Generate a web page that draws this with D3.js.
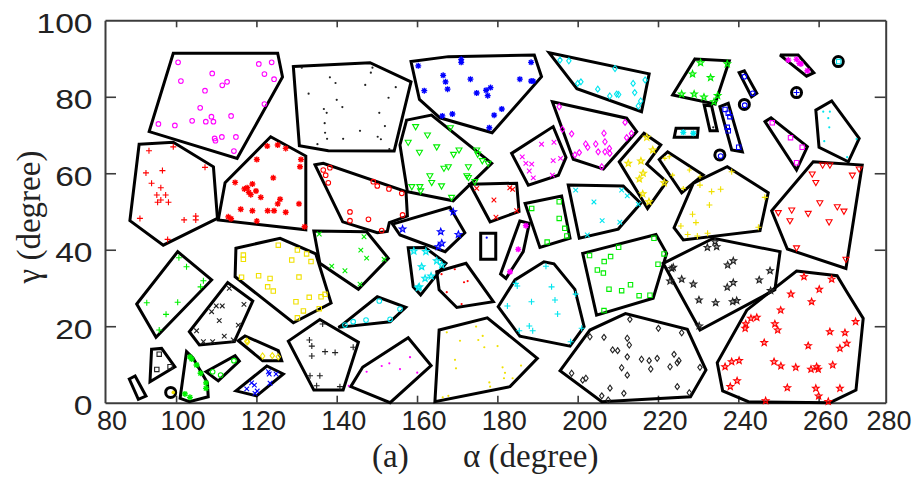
<!DOCTYPE html>
<html>
<head>
<meta charset="utf-8">
<script src="https://cdn.jsdelivr.net/npm/d3@7"></script>
<style>
  body { margin: 0; background: #fff; }
  svg { display: block; }
</style>
</head>
<body>
<svg id="chart" width="921" height="477"></svg>
<script>
// ---------- axes ----------
const xDomain = [82.3, 276.7];
const yDomain = [0, 100];
const xTicks = [100, 120, 140, 160, 180, 200, 220, 240, 260];
const xTickLabels = [80, 100, 120, 140, 160, 180, 200, 220, 240, 260, 280];
const yTicks = [20, 40, 60, 80];
const yTickLabels = [0, 20, 40, 60, 80, 100];

// ---------- clusters: hull vertices and member points, (alpha, gamma) in degrees ----------
const hull01 = [[99.3,91.4],[125.3,91.4],[126.5,85.2],[115.2,63.9],[93.3,70.9]];
const pts01 = [[100.5,89.0],[101.2,84.1],[109.0,86.1],[111.5,83.0],[112.7,83.9],[107.2,81.6],[120.6,88.6],[123.8,89.0],[122.0,85.95],[124.4,84.6],[122.0,78.1],[106.0,77.1],[95.6,72.9],[99.7,72.5],[104.0,73.7],[107.4,73.5],[108.8,74.8],[109.3,73.5],[113.7,75.0],[109.6,69.1],[109.8,68.5],[111.4,69.5],[114.9,69.5],[114.4,65.8]];

const hull02 = [[90.8,67.6],[99.3,68.1],[109.3,61.7],[110.3,48.2],[96.8,41.2],[88.5,47.6]];
const pts02 = [[93.25,65.9],[99.3,66.9],[107.2,61.55],[92.5,60.1],[96.6,60.7],[93.9,57.4],[96.2,56.2],[95.2,54.3],[97.4,54.3],[95.4,52.4],[96.2,53.0],[98.1,52.4],[91.0,48.2],[102.0,47.8],[104.9,48.8],[104.9,47.8],[97.9,42.7]];

const hull03 = [[123.55,69.55],[132.3,64.5],[132.3,45.2],[110.5,47.8],[112.2,57.5]];
const pts03 = [[122.7,67.1],[125.3,67.4],[127.3,66.5],[120.1,63.6],[131.1,63.6],[130.85,61.7],[114.7,57.6],[119.0,57.2],[124.2,58.8],[117.7,56.2],[117.0,55.9],[118.1,55.0],[118.6,54.4],[119.9,55.35],[121.1,53.7],[125.9,53.2],[130.6,52.0],[125.3,52.0],[116.1,50.6],[119.0,50.2],[122.8,50.2],[124.4,50.2],[127.3,49.8],[113.0,48.6],[113.7,48.1],[120.1,47.5],[132.0,46.0]];

const hull04 = [[129.2,87.9],[148.3,88.9],[158.5,83.9],[154.3,65.8],[137.9,65.9],[130.7,67.2]];
const pts04 = [[131.3,87.6],[138.3,85.1],[139.7,83.6],[148.9,87.6],[148.5,86.3],[147.1,83.1],[154.7,82.5],[152.9,79.75],[133.0,80.8],[140.0,79.2],[141.4,77.3],[136.8,76.8],[137.5,75.8],[150.6,75.8],[137.0,73.1],[152.0,72.35],[145.8,71.1],[137.1,70.6],[137.6,69.0],[141.6,69.0],[150.2,69.55],[151.0,68.9],[135.2,67.6],[153.1,66.3]];

const hull05 = [[158.5,89.2],[167.8,90.5],[189.2,90.9],[191.0,85.25],[178.7,70.6],[165.7,74.5],[160.6,79.3]];
const pts05 = [[160.3,88.1],[171.0,89.8],[171.0,89.0],[188.4,89.0],[166.5,85.6],[167.1,83.9],[173.3,84.6],[185.6,84.6],[188.4,84.1],[188.9,84.1],[167.6,82.0],[161.8,81.6],[174.85,81.0],[177.2,81.7],[178.3,82.4],[177.6,80.3],[181.1,76.8],[168.8,75.5],[166.3,75.0],[179.2,75.2],[178.0,71.9]];

const hull06 = [[192.9,91.5],[217.8,86.0],[215.9,76.1],[199.8,82.1]];
const pts06 = [[195.6,89.6],[197.8,89.4],[200.8,83.9],[200.0,83.5],[205.0,82.0],[209.7,80.7],[209.3,87.4],[213.8,83.5],[216.8,84.4],[214.2,81.1],[210.2,80.6],[208.0,80.2],[215.7,78.9],[215.1,77.6]];

const hull07 = [[193.7,78.7],[212.2,74.4],[214.7,70.9],[206.4,61.1],[198.9,63.65]];
const pts07 = [[195.4,77.4],[196.2,71.5],[198.5,70.3],[206.55,70.45],[206.8,68.25],[202.0,67.65],[202.5,66.8],[204.5,67.65],[205.1,65.6],[206.8,65.6],[207.9,66.5],[208.0,65.2],[200.4,65.4],[199.3,64.8],[206.0,61.7],[211.8,73.3],[212.2,69.3],[213.4,70.4]];

const hull08 = [[157.4,73.9],[163.6,75.2],[178.6,62.6],[169.0,52.8],[157.6,55.2],[155.75,67.4]];
const pts08 = [[159.65,72.2],[162.6,70.0],[168.3,71.9],[157.8,68.1],[160.6,65.5],[164.9,66.9],[169.1,64.95],[170.45,66.1],[174.85,66.1],[175.1,65.0],[176.25,63.3],[172.8,61.7],[167.8,61.7],[166.7,61.3],[163.2,59.35],[163.65,57.6],[172.4,59.35],[172.8,58.9],[158.7,56.5],[160.7,56.5],[160.9,55.4],[166.1,56.7],[168.6,53.7],[174.4,57.8],[177.7,62.6]];

const hull09 = [[134.6,62.2],[136.65,62.6],[157.25,55.2],[157.6,48.8],[153.1,47.1],[152.6,44.8],[150.1,44.45],[141.5,47.3]];
const pts09 = [[136.65,60.85],[138.3,61.45],[137.25,59.5],[137.9,57.5],[149.1,57.8],[150.1,56.7],[153.0,55.9],[156.2,54.75],[143.3,49.9],[143.3,47.6],[147.9,47.95],[151.2,45.0],[156.4,49.1]];

const hull10 = [[134.3,44.9],[147.45,44.7],[152.85,37.75],[145.4,29.65],[135.8,36.45]];
const pts10 = [[135.65,44.1],[146.8,43.4],[146.0,39.9],[147.45,37.8],[138.75,35.7],[142.05,34.5],[145.8,31.0],[151.8,37.5]];

const hull11 = [[153.9,46.7],[168.2,51.1],[171.9,44.45],[167.0,39.5],[155.75,43.85]];
const pts11 = [[156.4,45.4],[165.9,44.7],[170.3,44.0],[166.15,41.7],[165.3,40.8],[169.0,49.9]];

const hull12 = [[157.8,40.5],[162.0,40.6],[167.2,36.45],[160.9,28.15],[159.05,30.3]];
const pts12 = [[159.2,39.65],[162.2,39.5],[164.9,37.1],[161.15,35.55],[166.15,36.0],[162.0,32.5],[163.5,33.1],[160.55,30.3],[160.3,30.05]];

const hull13 = [[164.9,34.25],[172.2,36.45],[179.0,26.4],[169.9,24.9],[165.5,29.5]];
const pts13 = [[166.1,33.6],[169.4,34.9],[171.7,31.5],[172.6,31.8],[167.4,28.9],[171.1,25.8]];

const hull14 = [[173.2,57.1],[184.8,57.4],[185.4,50.0],[178.2,47.3]];
const pts14 = [[174.85,56.05],[179.15,53.0],[183.1,56.2],[183.8,55.8],[179.65,48.5],[184.8,50.2]];

const hull15 = [[175.85,44.3],[179.6,44.3],[179.6,37.5],[175.85,37.5]];
const pts15 = [[177.35,43.15]];

const hull16 = [[185.6,47.5],[187.95,46.9],[186.45,39.5],[182.15,32.5],[180.8,33.65]];
const pts16 = [[187.1,46.3],[185.2,40.1],[183.15,34.25]];

const hull17 = [[183.55,65.2],[193.9,72.2],[197.1,64.15],[195.2,59.5],[187.7,56.9]];
const pts17 = [[191.0,67.6],[194.1,68.1],[186.2,64.3],[187.1,62.6],[188.55,62.4],[187.95,60.6],[193.9,63.3],[195.75,63.9],[188.95,58.8],[193.7,59.5]];

const hull18 = [[186.9,52.1],[196.0,54.05],[198.1,43.0],[190.6,40.6]];
const pts18 = [[188.55,50.8],[195.4,52.55],[195.4,48.2],[196.8,45.6],[197.3,43.6],[192.4,42.0]];

const hull19 = [[197.65,56.9],[211.35,56.65],[215.7,52.15],[210.1,45.4],[200.4,43.0]];
const pts19 = [[199.5,55.6],[204.05,52.5],[206.1,47.6],[210.95,55.6],[212.35,54.1],[210.5,47.2],[202.4,43.85],[215.1,51.9]];

const hull20 = [[210.35,63.0],[216.5,70.45],[220.7,67.4],[217.2,62.4],[222.15,57.8],[217.4,50.8]];
const pts20 = [[212.6,62.6],[215.75,63.2],[216.3,60.0],[215.35,58.5],[216.2,54.6],[217.75,52.55],[221.55,57.5],[218.7,66.1],[217.2,69.4]];

const hull21 = [[220.3,63.6],[222.4,65.6],[231.25,59.55],[225.9,54.9]];
const pts21 = [[221.7,63.9],[222.8,64.3],[223.65,59.5],[227.8,60.85],[230.45,59.1],[226.3,56.05]];

const hull22 = [[228.8,57.4],[237.25,61.7],[247.45,54.9],[245.4,45.0],[226.3,42.55],[224.0,45.75]];
const pts22 = [[230.45,56.9],[233.35,55.2],[235.6,55.8],[232.8,51.7],[228.6,49.3],[229.45,47.1],[225.7,46.2],[227.4,44.0],[232.35,44.3],[229.8,43.6],[245.0,45.9],[246.6,53.7],[238.35,60.4]];

const hull23 = [[258.65,63.0],[270.85,62.15],[266.8,35.1],[252.2,40.2],[248.3,50.2]];
const pts23 = [[261.0,62.15],[262.8,62.15],[258.4,59.8],[259.3,57.6],[268.4,59.5],[270.1,61.1],[260.3,52.3],[264.65,51.25],[266.3,50.1],[249.95,49.7],[253.3,50.4],[257.4,49.5],[252.85,47.6],[262.6,47.3],[254.5,40.5],[266.8,37.5]];

const hull24 = [[259.3,76.5],[263.25,78.9],[270.1,69.1],[267.4,63.0],[260.1,66.8]];
const pts24 = [[261.15,76.1],[262.8,76.1],[262.4,74.4],[262.65,72.0],[261.4,68.4],[269.45,68.95],[267.1,64.2]];

const hull25 = [[246.65,73.5],[248.15,74.5],[257.2,66.95],[254.5,60.85]];
const pts25 = [[248.45,73.2],[253.0,69.3],[255.9,66.8],[254.5,62.75]];

const hull26 = [[250.4,90.9],[254.9,90.9],[258.8,86.3],[257.0,85.4]];
const pts26 = [[252.45,89.6],[254.5,89.8],[255.2,88.75],[255.6,88.6],[257.2,86.8]];

const hull27 = [[235.4,77.4],[237.5,78.3],[241.0,65.6],[238.35,66.1]];
const pts27 = [[236.7,76.7],[237.5,75.7],[237.9,74.8],[237.25,72.0],[237.5,71.1],[240.1,66.8]];

const hull28 = [[240.2,86.3],[241.5,86.8],[244.6,80.9],[243.3,80.0]];
const pts28 = [[241.5,85.25],[243.6,80.9]];

const hull29 = [[231.5,77.85],[233.35,77.6],[234.75,71.1],[232.95,71.1]];
const pts29 = [[233.75,72.0]];

const hull30 = [[224.5,71.75],[230.0,71.75],[229.8,69.4],[224.05,69.4]];
const pts30 = [[226.3,70.7],[228.8,70.45]];

const hull31 = [[229.2,89.9],[237.75,89.4],[234.2,78.1],[223.65,80.5]];
const pts31 = [[230.6,88.9],[237.25,88.6],[228.6,85.95],[233.1,85.0],[225.9,80.7],[229.0,80.7],[231.45,79.9],[234.85,80.3],[233.95,78.7]];

const hull32 = [[221.3,36.45],[233.8,43.0],[250.4,39.5],[249.1,29.5],[230.45,19.0]];
const pts32 = [[234.2,42.1],[232.3,40.6],[234.6,40.8],[237.35,36.0],[238.75,37.1],[223.8,35.4],[223.4,35.1],[223.0,31.8],[225.9,32.3],[228.8,31.0],[237.25,30.2],[238.75,31.4],[245.2,32.1],[247.9,34.5],[248.05,29.3],[230.2,26.85],[234.35,26.15],[238.6,26.4],[239.6,26.7],[230.25,20.05]];

const hull33 = [[254.5,34.45],[264.6,33.2],[267.0,29.0],[271.1,22.05],[269.3,3.3],[262.8,0.0],[242.5,0.25],[236.1,3.1],[234.75,10.45],[242.1,24.2]];
const pts33 = [[256.35,32.95],[263.25,32.3],[253.1,28.4],[260.15,29.65],[258.25,26.4],[250.55,24.2],[244.6,22.3],[243.15,22.05],[241.85,20.6],[241.7,19.45],[249.1,20.6],[249.8,19.0],[246.45,15.7],[262.8,18.55],[266.55,18.3],[257.4,14.9],[265.3,14.2],[267.0,15.5],[269.2,21.2],[248.9,10.7],[250.6,9.6],[254.3,9.25],[258.1,8.75],[259.5,9.4],[259.9,8.75],[263.5,9.85],[238.35,10.7],[240.2,11.0],[236.7,9.4],[239.7,5.7],[238.0,4.2],[252.2,3.9],[259.3,3.75],[265.3,3.75],[260.0,1.75],[246.8,0.5],[262.4,0.3]];

const hull34 = [[195.6,8.35],[203.05,19.0],[211.9,23.3],[227.3,19.2],[231.95,8.55],[228.1,1.55],[206.0,0.25]];
const pts34 = [[203.05,17.25],[206.55,17.1],[213.0,21.8],[220.1,19.45],[225.9,18.3],[212.35,16.85],[212.85,15.1],[208.7,13.8],[209.95,13.6],[212.35,12.0],[215.9,11.35],[217.8,11.0],[219.8,11.6],[224.0,12.65],[225.2,11.0],[224.8,10.45],[223.0,9.4],[210.95,9.15],[212.35,7.2],[218.2,8.8],[230.45,9.25],[224.8,4.2],[208.05,3.8],[211.5,2.45],[227.8,2.6],[206.0,1.8],[207.6,0.7],[198.5,7.7],[201.25,5.9],[202.05,6.4]];

const hull35 = [[180.2,25.1],[184.4,32.1],[191.6,36.85],[194.1,36.3],[199.3,29.65],[201.6,19.9],[198.1,14.8],[185.6,17.4]];
const pts35 = [[192.1,35.7],[184.6,31.2],[184.95,30.5],[193.5,30.3],[199.5,28.4],[188.5,26.4],[194.35,26.85],[182.5,25.3],[195.0,23.2],[187.95,20.05],[188.8,18.8],[185.45,18.8],[201.0,19.45],[198.25,15.95]];

const hull36 = [[165.5,19.0],[177.5,22.2],[189.95,11.6],[183.15,4.2],[164.45,0.25]];
const pts36 = [[167.4,18.4],[174.7,19.9],[170.7,16.2],[175.25,16.4],[176.35,17.45],[176.75,14.5],[180.05,14.8],[169.45,11.2],[169.7,9.0],[181.3,9.25],[185.9,9.7],[181.9,7.8],[181.65,6.4],[183.8,6.4],[178.0,5.3],[178.2,4.2],[166.4,1.4],[167.8,1.8]];

const hull37 = [[146.45,9.25],[157.8,17.0],[163.5,9.7],[153.3,0.0],[143.5,4.2]];
const pts37 = [[147.45,8.1],[151.2,9.6],[153.1,10.3],[155.75,8.8],[158.25,11.9],[160.05,7.85],[143.0,4.4]];

const hull38 = [[127.95,16.1],[135.8,21.75],[145.4,15.8],[141.6,3.3],[134.3,3.3]];
const pts38 = [[136.5,20.6],[133.8,14.8],[133.8,12.2],[137.1,13.35],[139.6,13.1],[144.1,14.5],[133.35,7.05],[135.8,7.05],[135.0,4.45],[140.8,4.2],[133.2,16.4]];

const hull39 = [[140.8,19.9],[150.1,27.7],[157.2,24.95],[153.3,21.15],[140.4,19.7]];
const pts39 = [[142.05,20.3],[144.1,21.2],[147.3,21.6],[150.6,26.6],[153.3,21.8],[155.75,24.5]];

const hull40 = [[114.9,40.4],[125.9,43.0],[134.8,38.9],[138.6,26.05],[129.2,20.9],[114.7,32.95]];
const pts40 = [[125.45,41.2],[130.2,39.9],[132.5,38.9],[133.6,36.9],[128.8,37.3],[116.75,38.6],[116.75,37.5],[120.55,33.2],[123.4,32.5],[130.6,32.85],[116.3,32.8],[122.8,30.3],[124.2,29.2],[129.85,26.4],[133.15,27.55],[136.1,27.7],[137.1,28.35],[131.7,24.0],[135.65,24.6],[130.2,22.2]];

const hull41 = [[90.2,25.8],[100.4,39.5],[108.85,32.1],[95.0,17.1]];
const pts41 = [[100.7,37.9],[102.6,35.55],[106.8,31.9],[106.1,30.3],[92.7,26.15],[100.4,26.25],[97.5,23.1],[95.8,19.0]];

const hull42 = [[103.3,18.55],[112.85,31.4],[119.1,26.6],[114.5,15.95],[105.8,15.1]];
const pts42 = [[113.25,29.9],[110.0,25.3],[111.5,25.3],[108.85,23.8],[110.75,21.45],[116.9,25.7],[115.5,20.3],[105.1,18.8],[112.0,17.4],[106.8,15.95],[109.1,15.95],[114.25,16.4]];

const hull43 = [[115.5,16.2],[117.15,17.45],[125.45,13.6],[126.3,11.0],[121.55,11.0]];
const pts43 = [[117.6,16.1],[117.8,15.9],[121.55,12.2],[123.95,12.3],[125.45,12.0]];

const hull44 = [[114.9,3.1],[122.6,9.6],[126.7,7.5],[120.05,1.8]];
const pts44 = [[123.0,8.1],[123.2,7.5],[124.9,7.5],[118.8,5.2],[119.5,4.6],[117.6,3.6],[120.2,3.05],[119.65,2.45],[123.4,5.1]];

const hull45 = [[107.45,8.1],[114.7,12.3],[115.75,10.9],[110.5,5.7]];
const pts45 = [[109.1,8.1],[111.1,7.25],[114.4,11.0]];

const hull46 = [[102.6,13.35],[104.2,11.7],[107.8,5.2],[108.0,1.55],[103.3,0.25],[101.0,1.15]];
const pts46 = [[103.45,12.0],[103.9,11.4],[105.1,9.85],[106.1,7.7],[107.45,5.2],[107.45,3.75],[102.2,2.3],[103.45,1.4]];

const hull47 = [[93.9,14.0],[96.4,14.2],[99.7,9.4],[93.5,5.5]];
const pts47 = [[95.8,12.7],[95.2,8.7],[98.5,9.4]];

const hull48 = [[88.35,6.2],[89.8,7.0],[92.5,1.75],[90.6,0.9]];
const pts48 = [];

const hull49 = [[201.25,39.05],[219.5,44.0],[222.15,39.05],[218.8,27.3],[204.7,22.9]];
const pts49 = [[202.95,38.5],[208.2,38.2],[210.2,40.65],[206.6,36.9],[204.9,34.7],[206.4,33.9],[207.8,29.7],[210.95,29.3],[213.15,30.85],[215.3,28.0],[218.0,28.1],[220.0,36.2],[221.5,38.9],[219.0,43.0],[206.55,24.1]];

// single-member clusters: drawn as a ring around the member
const ringCenters = [[264.9,89.2],[254.5,81.1],[241.5,78.0],[235.4,64.8],[98.65,2.7]];
const ringMembers = [[265.0,89.2],[254.5,81.1],[241.6,77.8],[235.6,64.5],[99.3,2.7]];

// ---------- styles per cluster (MATLAB-like colours and markers) ----------
const C = { m: "#ff00ff", r: "#ff0000", b: "#0000ff", g: "#00ee00", c: "#00e5ee", y: "#f0e000", k: "#222222" };
const groups = [
  [hull01, pts01, C.m, "o"], [hull02, pts02, C.r, "+"], [hull03, pts03, C.r, "*"],
  [hull04, pts04, C.k, "."], [hull05, pts05, C.b, "*"], [hull06, pts06, C.c, "d"],
  [hull07, pts07, C.m, "d"], [hull08, pts08, C.g, "v"], [hull09, pts09, C.r, "o"],
  [hull10, pts10, C.g, "x"], [hull11, pts11, C.b, "p"], [hull12, pts12, C.c, "p"],
  [hull13, pts13, C.r, "."], [hull14, pts14, C.r, "x"], [hull15, pts15, C.b, "."],
  [hull16, pts16, C.m, "*"], [hull17, pts17, C.m, "x"], [hull18, pts18, C.g, "s"],
  [hull19, pts19, C.c, "x"], [hull20, pts20, C.y, "p"], [hull21, pts21, C.y, "+s"],
  [hull22, pts22, C.y, "+"], [hull23, pts23, C.r, "v"], [hull24, pts24, C.c, "."],
  [hull25, pts25, C.m, "s"], [hull26, pts26, C.m, "*"], [hull27, pts27, C.b, "s"],
  [hull28, pts28, C.b, "o"], [hull29, pts29, C.k, "."], [hull30, pts30, C.c, "*"],
  [hull31, pts31, C.g, "p"], [hull32, pts32, C.k, "p"], [hull33, pts33, C.r, "p"],
  [hull34, pts34, C.k, "d"], [hull35, pts35, C.c, "+"], [hull36, pts36, C.y, "."],
  [hull37, pts37, C.m, "."], [hull38, pts38, C.k, "+"], [hull39, pts39, C.c, "o"],
  [hull40, pts40, C.y, "s"], [hull41, pts41, C.g, "+"], [hull42, pts42, C.k, "x"],
  [hull43, pts43, C.y, "d"], [hull44, pts44, C.b, "x"], [hull45, pts45, C.g, "o"],
  [hull46, pts46, C.g, "*"], [hull47, pts47, C.k, "s"], [hull48, pts48, C.k, "."],
  [hull49, pts49, C.g, "s"]
].map(([hull, pts, color, marker]) => ({ hull, pts, color, marker }));
const ringStyles = [[C.c, "s"], [C.b, "+"], [C.b, "o"], [C.b, "o"], [C.y, "O"]];

// ---------- layout ----------
const svg = d3.select("#chart");
const x = d3.scaleLinear().domain(xDomain).range([105, 885.7]);
const y = d3.scaleLinear().domain(yDomain).range([402.7, 20.3]);

// marker glyph paths, centred on the origin
function markerPath(type) {
  const p = d3.path();
  switch (type) {
    case "o": p.arc(0, 0, 2.3, 0, 2 * Math.PI); break;
    case "O": p.arc(0, 0, 1.8, 0, 2 * Math.PI); break;
    case "+": p.moveTo(-3, 0); p.lineTo(3, 0); p.moveTo(0, -3); p.lineTo(0, 3); break;
    case "+s": p.moveTo(-2.4, 0); p.lineTo(2.4, 0); p.moveTo(0, -2.4); p.lineTo(0, 2.4); break;
    case "x": p.moveTo(-2.3, -2.3); p.lineTo(2.3, 2.3); p.moveTo(-2.3, 2.3); p.lineTo(2.3, -2.3); break;
    case "*": {
      p.moveTo(-3, 0); p.lineTo(3, 0); p.moveTo(0, -3); p.lineTo(0, 3);
      const d = 2.2; p.moveTo(-d, -d); p.lineTo(d, d); p.moveTo(-d, d); p.lineTo(d, -d);
      break;
    }
    case "v": p.moveTo(-3, -2); p.lineTo(3, -2); p.lineTo(0, 3.2); p.closePath(); break;
    case "s": p.rect(-2.2, -2.2, 4.4, 4.4); break;
    case "d": p.moveTo(0, -3); p.lineTo(2.2, 0); p.lineTo(0, 3); p.lineTo(-2.2, 0); p.closePath(); break;
    case "p": {
      for (let i = 0; i < 10; i++) {
        const r = i % 2 === 0 ? 3.5 : 1.5;
        const a = -Math.PI / 2 + i * Math.PI / 5;
        if (i === 0) p.moveTo(r * Math.cos(a), r * Math.sin(a));
        else p.lineTo(r * Math.cos(a), r * Math.sin(a));
      }
      p.closePath();
      break;
    }
    case ".": p.arc(0, 0, 1.1, 0, 2 * Math.PI); break;
  }
  return p.toString();
}
const filledMarker = t => t === "." || t === "O";
const markerFill = d => filledMarker(d.marker) ? d.color : (d.marker === "p" ? d.color : "none");
const markerFillOpacity = d => d.marker === "p" ? 0.4 : 1;
const markerStroke = d => filledMarker(d.marker) ? "none" : d.color;
const markerWidth = d => d.marker === "*" ? 1.35 : 1.1;

// ---------- frame and ticks ----------
const axisColor = "#3c3c3c";
function styleAxis(g) {
  g.select(".domain").attr("stroke", axisColor).attr("stroke-width", 2);
  g.selectAll(".tick line").attr("stroke", axisColor).attr("stroke-width", 1.6);
  g.selectAll(".tick text").remove();
}
svg.append("g").attr("transform", `translate(0,${y(0)})`)
  .call(d3.axisBottom(x).tickValues(xTicks).tickSizeInner(-7).tickSizeOuter(0).tickFormat(""))
  .call(styleAxis);
svg.append("g").attr("transform", `translate(0,${y(100)})`)
  .call(d3.axisTop(x).tickValues(xTicks).tickSizeInner(-7).tickSizeOuter(0).tickFormat(""))
  .call(styleAxis);
svg.append("g").attr("transform", `translate(${x(xDomain[0])},0)`)
  .call(d3.axisLeft(y).tickValues(yTicks).tickSizeInner(-11).tickSizeOuter(0).tickFormat(""))
  .call(styleAxis);
svg.append("g").attr("transform", `translate(${x(xDomain[1])},0)`)
  .call(d3.axisRight(y).tickValues(yTicks).tickSizeInner(-11).tickSizeOuter(0).tickFormat(""))
  .call(styleAxis);

// tick labels
const xLabelPos = v => Math.max(112, Math.min(889, x(v) + 7));
svg.append("g").selectAll("text").data(xTickLabels).join("text")
  .attr("x", d => xLabelPos(d)).attr("y", 430)
  .attr("text-anchor", "middle")
  .attr("font-family", "'Liberation Sans', Arial, sans-serif")
  .attr("font-size", 27).attr("fill", "#222")
  .text(d => d);
svg.append("g").selectAll("text").data(yTickLabels).join("text")
  .attr("transform", d => `translate(92.5,${y(d) + 12.5}) scale(1.2,1)`)
  .attr("text-anchor", "end")
  .attr("font-family", "'Liberation Sans', Arial, sans-serif")
  .attr("font-size", 28).attr("fill", "#222")
  .text(d => d);

// axis titles
const serif = "'Liberation Serif', 'Times New Roman', serif";
svg.append("text").attr("x", 372).attr("y", 467)
  .attr("font-family", serif).attr("font-size", 33).attr("fill", "#222").text("(a)");
svg.append("text").attr("x", 463).attr("y", 467)
  .attr("font-family", serif).attr("font-size", 33).attr("fill", "#222").text("α (degree)");
svg.append("text").attr("transform", "translate(40,217) rotate(-90)")
  .attr("text-anchor", "middle")
  .attr("font-family", serif).attr("font-size", 33).attr("fill", "#222").text("γ (degree)");

// ---------- clusters ----------
const hullLine = d3.line().x(d => x(d[0])).y(d => y(d[1])).curve(d3.curveLinearClosed);

const layer = svg.append("g");
layer.selectAll("path.hull").data(groups).join("path")
  .attr("class", "hull")
  .attr("d", d => hullLine(d.hull))
  .attr("fill", "none").attr("stroke", "#000").attr("stroke-width", 3)
  .attr("stroke-linejoin", "miter").attr("stroke-miterlimit", 3);

layer.selectAll("circle.ring").data(ringCenters).join("circle")
  .attr("class", "ring")
  .attr("cx", d => x(d[0])).attr("cy", d => y(d[1])).attr("r", 5)
  .attr("fill", "none").attr("stroke", "#000").attr("stroke-width", 3);

const markerData = groups.flatMap(g => g.pts.map(p => ({ p, color: g.color, marker: g.marker })))
  .concat(ringMembers.map((p, i) => ({ p, color: ringStyles[i][0], marker: ringStyles[i][1] })));

layer.selectAll("path.mk").data(markerData).join("path")
  .attr("class", "mk")
  .attr("transform", d => `translate(${x(d.p[0])},${y(d.p[1])})`)
  .attr("d", d => markerPath(d.marker))
  .attr("fill", markerFill)
  .attr("fill-opacity", markerFillOpacity)
  .attr("stroke", markerStroke)
  .attr("stroke-width", markerWidth);
</script>
</body>
</html>
